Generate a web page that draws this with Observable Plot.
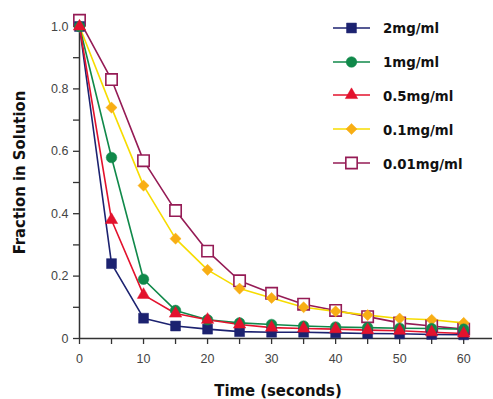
<!DOCTYPE html>
<html><head><meta charset="utf-8">
<script src="https://cdn.jsdelivr.net/npm/d3@7"></script>
<script src="https://cdn.jsdelivr.net/npm/@observablehq/plot@0.6"></script>
<style>
body{margin:0;background:#fff;}
#wrap{position:relative;width:493px;height:399px;}
svg{font-family:"Liberation Sans",Arial,sans-serif;}
g[aria-label="x-axis tick label"] text, g[aria-label="y-axis tick label"] text{fill:#444;font-size:12.5px;}
#legend{position:absolute;left:333px;top:11px;font-family:"DejaVu Sans Condensed","Liberation Sans",sans-serif;font-weight:bold;font-size:14.8px;color:#111;}
#legend .row{display:flex;align-items:center;height:33.8px;}
#legend svg{margin-right:13px;}
</style></head><body>
<div id="wrap"><div id="chart"></div><div id="legend"></div></div>
<script>
const times = [0,5,10,15,20,25,30,35,40,45,50,55,60];
const s2mg   = [1.0,0.24,0.065,0.04,0.03,0.022,0.02,0.02,0.018,0.016,0.015,0.013,0.012];
const s1mg   = [1.0,0.58,0.19,0.09,0.06,0.05,0.045,0.04,0.037,0.035,0.033,0.032,0.03];
const s05mg  = [1.0,0.38,0.14,0.08,0.06,0.045,0.035,0.032,0.03,0.027,0.025,0.02,0.016];
const s01mg  = [1.0,0.74,0.49,0.32,0.22,0.16,0.13,0.10,0.087,0.075,0.064,0.06,0.05];
const s001mg = [1.02,0.83,0.57,0.41,0.28,0.185,0.145,0.11,0.09,0.07,0.05,0.04,0.03];
const seriesNames = ["2mg/ml","1mg/ml","0.5mg/ml","0.1mg/ml","0.01mg/ml"];
const xTickLabels = [0,10,20,30,40,50,60];
const yTickLabels = [0,0.2,0.4,0.6,0.8,1.0];
const xTitle = "Time (seconds)";
const yTitle = "Fraction in Solution";

const styles = {
  "2mg/ml":   {line:"#1c2270", fill:"#1c2270", stroke:"#1c2270", symbol:"square", r:5.6},
  "1mg/ml":   {line:"#10894a", fill:"#10894a", stroke:"#10894a", symbol:"circle", r:5.3},
  "0.5mg/ml": {line:"#e3122d", fill:"#e3122d", stroke:"#e3122d", symbol:"triangle", r:4.6},
  "0.1mg/ml": {line:"#f7dc00", fill:"#f8ae14", stroke:"#f8ae14", symbol:"diamond2", r:5.0},
  "0.01mg/ml":{line:"#951b55", fill:"#ffffff", stroke:"#951b55", symbol:"square", r:6.4}
};
const valuesByName = {"2mg/ml":s2mg,"1mg/ml":s1mg,"0.5mg/ml":s05mg,"0.1mg/ml":s01mg,"0.01mg/ml":s001mg};
const drawOrder = ["0.01mg/ml","0.1mg/ml","2mg/ml","1mg/ml","0.5mg/ml"];
const titleFont = {fontFamily:"DejaVu Sans Condensed, Liberation Sans, sans-serif", fontWeight:"bold", fontSize:16.5, fill:"#111"};

const marks = [];
marks.push(Plot.ruleY([0],{stroke:"#333",strokeWidth:1.5}));
marks.push(Plot.ruleX([0],{stroke:"#333",strokeWidth:1.5}));
marks.push(Plot.axisX({ticks:d3.range(0,61,5),tickSize:6,tickFormat:()=>"",stroke:"#333",strokeWidth:1.3,label:null}));
marks.push(Plot.axisX({ticks:xTickLabels,tickSize:0,tickPadding:16,label:null}));
marks.push(Plot.axisY({ticks:d3.range(0,1.01,0.1),tickSize:6,tickFormat:()=>"",stroke:"#333",strokeWidth:1.3,label:null}));
marks.push(Plot.axisY({ticks:yTickLabels,tickSize:0,tickPadding:11,tickFormat:d=>d===0?"0":d.toFixed(1),label:null}));
marks.push(Plot.text([xTitle],{frameAnchor:"bottom",text:d=>d,dy:57,dx:-8,...titleFont}));
marks.push(Plot.text([yTitle],{frameAnchor:"left",textAnchor:"middle",text:d=>d,rotate:-90,dx:-60,dy:-10,...titleFont}));
for (const name of drawOrder) {
  const s = styles[name];
  const data = times.map((t,i)=>({t, v:valuesByName[name][i]}));
  marks.push(Plot.line(data,{x:"t",y:"v",stroke:s.line,strokeWidth:1.6}));
}
for (const name of drawOrder) {
  const s = styles[name];
  const data = times.map((t,i)=>({t, v:valuesByName[name][i]}));
  marks.push(Plot.dot(data,{x:"t",y:"v",symbol:()=>s.symbol,r:s.r,fill:s.fill,stroke:s.stroke,strokeWidth:s.fill==="#ffffff"?1.6:0.5}));
}

const chart = Plot.plot({
  width:493, height:399,
  marginLeft:79, marginRight:1, marginTop:26, marginBottom:61,
  x:{domain:[0,64.5]},
  y:{domain:[0,1.0]},
  symbol:{type:"identity"},
  marks
});
document.getElementById("chart").appendChild(chart);

// legend
const legend = d3.select("#legend");
const symMap = {square:d3.symbolSquare,circle:d3.symbolCircle,triangle:d3.symbolTriangle,diamond2:d3.symbolDiamond2};
for (const name of seriesNames) {
  const s = styles[name];
  const row = legend.append("div").attr("class","row");
  const svg = row.append("svg").attr("width",37).attr("height",16);
  svg.append("line").attr("x1",0).attr("x2",37).attr("y1",8).attr("y2",8).attr("stroke",s.line).attr("stroke-width",1.6);
  svg.append("path").attr("transform","translate(18.5,8)")
    .attr("d",d3.symbol(symMap[s.symbol], Math.PI*s.r*s.r)())
    .attr("fill",s.fill).attr("stroke",s.stroke).attr("stroke-width",s.fill==="#ffffff"?1.6:0.5);
  row.append("span").text(name);
}
</script>
</body></html>
